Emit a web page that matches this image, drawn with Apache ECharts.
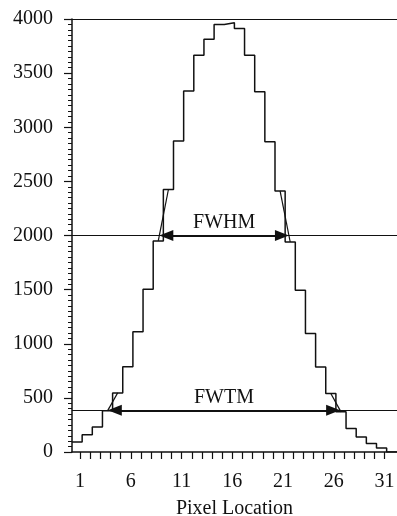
<!DOCTYPE html>
<html>
<head>
<meta charset="utf-8">
<script src="https://cdn.jsdelivr.net/npm/echarts@6/dist/echarts.min.js"></script>
<style>
html, body { margin: 0; padding: 0; background: #fff; }
#chart { width: 397px; height: 516px; }
</style>
</head>
<body>
<div id="chart"></div>
<script>
// pixel index and counts
var pixels = [1, 2, 3, 4, 5, 6, 7, 8, 9, 10, 11, 12, 13, 14, 15, 16,
    17, 18, 19, 20, 21, 22, 23, 24, 25, 26, 27, 28, 29, 30, 31];
var counts = [93, 160, 231, 380, 546, 787, 1111, 1503, 1950, 2425, 2874, 3336,
    3666, 3813, 3950, 3965, 3913, 3666, 3327, 2865, 2412, 1940, 1494, 1094,
    786, 540, 371, 216, 139, 78, 37];
var xLabels = [1, 6, 11, 16, 21, 26, 31];
var yMax = 4000;
var fwhmLevel = 2000;
var fwtmLevel = 385;

var ink = '#111';
var font = 'Liberation Serif';
var xMin = 0.2, xMax = 32.22;
var binShift = -0.3;   // bins drawn slightly left of the labels, as in the scan
var gridLeft = 72, chartW = 397;
var headLen = 14;      // arrowhead length, px
var unitPx = (chartW - gridLeft) / (xMax - xMin);

// step outline: left edge of each bin, then drop to zero
var steps = pixels.map(function (p, i) {
    return [i === 0 ? xMin : p + binShift - 0.5, counts[i]];
});
var last = pixels[pixels.length - 1] + binShift + 0.5;
steps.push([last, 0]);
steps.push([xMax, 0]);

// linear interpolation between bin centres where a level is crossed
function crossings(level) {
    var out = [];
    for (var i = 0; i < counts.length - 1; i++) {
        var a = counts[i], b = counts[i + 1];
        if ((a - level) * (b - level) <= 0 && a !== b) {
            var xa = pixels[i] + binShift, xb = pixels[i + 1] + binShift;
            out.push({
                seg: [[xa, a], [xb, b]],
                x: xa + (level - a) / (b - a) * (xb - xa)
            });
        }
    }
    return out;
}
var half = crossings(fwhmLevel);
var tenth = crossings(fwtmLevel);

var segSeries = half.concat(tenth).map(function (c) {
    return {
        type: 'line', data: c.seg, symbol: 'none', silent: true,
        lineStyle: { color: ink, width: 1.2 }
    };
});

// arrow between the two crossings; heads are centred on the ends, so pull them in
function arrow(cs, level, text) {
    var inset = headLen / 2 / unitPx;
    return [{
        coord: [cs[0].x + inset, level],
        label: {
            show: true, formatter: text, position: 'insideMiddleTop', distance: 3,
            color: ink, fontFamily: font, fontSize: 20
        }
    }, {
        coord: [cs[cs.length - 1].x - inset, level]
    }];
}

var chart = echarts.init(document.getElementById('chart'));
chart.setOption({
    backgroundColor: '#fff',
    animation: false,
    grid: { left: gridLeft, right: 0, top: 19, bottom: 64, outerBoundsMode: 'none' },
    xAxis: {
        type: 'value', min: xMin, max: xMax,
        axisLine: { lineStyle: { color: ink, width: 1.5 } },
        axisTick: { customValues: pixels, length: 7, lineStyle: { color: ink, width: 1.2 } },
        axisLabel: {
            customValues: xLabels, margin: 20, color: ink,
            fontFamily: font, fontSize: 20
        },
        splitLine: { show: false },
        name: 'Pixel Location', nameLocation: 'middle', nameGap: 47,
        nameTextStyle: { color: ink, fontFamily: font, fontSize: 20 }
    },
    yAxis: {
        type: 'value', min: 0, max: yMax, interval: 500,
        axisLine: { show: true, lineStyle: { color: ink, width: 1.5 } },
        axisTick: { show: true, length: 8, lineStyle: { color: ink, width: 1.2 } },
        minorTick: { show: true, splitNumber: 10, length: 4, lineStyle: { color: ink } },
        axisLabel: {
            margin: 19, color: ink, fontFamily: font, fontSize: 20,
            formatter: function (v) { return String(v); }
        },
        splitLine: { show: false }
    },
    series: [{
        type: 'line', step: 'end', data: steps, symbol: 'none',
        lineStyle: { color: ink, width: 1.5 },
        markLine: {
            silent: true, symbol: 'none', animation: false,
            lineStyle: { color: ink, width: 1, type: 'solid' },
            label: { show: false },
            data: [{ yAxis: yMax }, { yAxis: fwhmLevel }, { yAxis: fwtmLevel }]
        }
    }, {
        type: 'line', data: [], symbol: 'none',
        markLine: {
            silent: true, animation: false,
            symbol: ['triangle', 'triangle'], symbolSize: [11, headLen],
            lineStyle: { color: ink, width: 2, type: 'solid' },
            data: [arrow(half, fwhmLevel, 'FWHM'), arrow(tenth, fwtmLevel, 'FWTM')]
        }
    }].concat(segSeries)
});
</script>
</body>
</html>
